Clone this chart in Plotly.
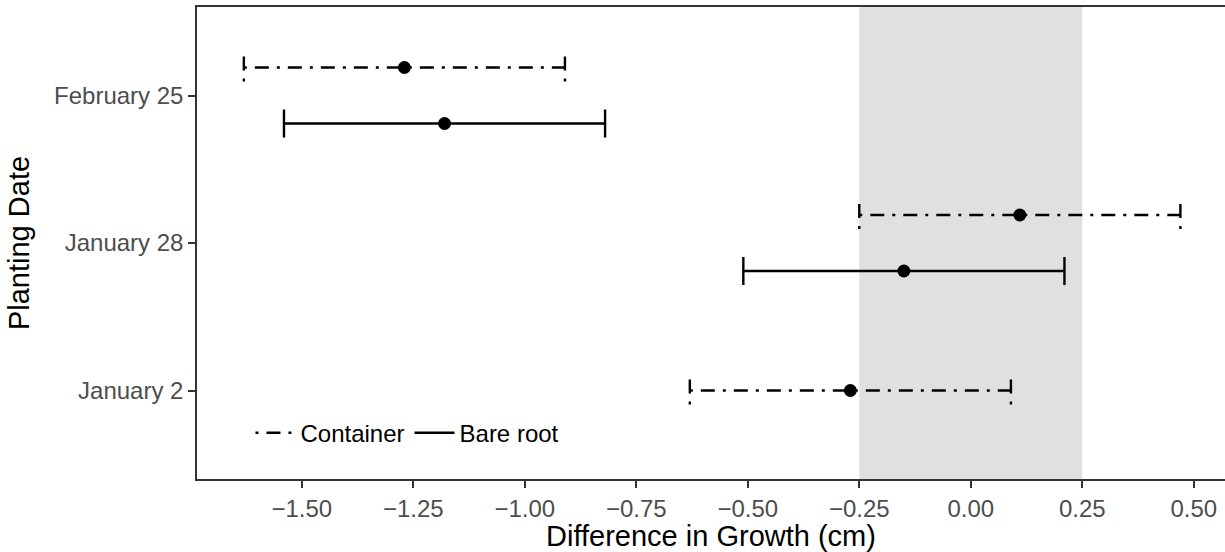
import plotly.graph_objects as go

# ---- data ----
dates = ["January 2", "January 28", "February 25"]
container_est = [-0.27, 0.11, -1.27]
container_lo = [-0.63, -0.25, -1.63]
container_hi = [0.09, 0.47, -0.91]
bare_dates = ["January 28", "February 25"]
bare_est = [-0.15, -1.18]
bare_lo = [-0.51, -1.54]
bare_hi = [0.21, -0.82]
equiv_bounds = [-0.25, 0.25]
x_ticks = [-1.5, -1.25, -1.0, -0.75, -0.5, -0.25, 0.0, 0.25, 0.5]

# ---- style ----
DODGE = 0.19
CAP = 0.095
LW = 2.4
FONT = "Liberation Sans, Arial, sans-serif"

pos = {d: i + 1 for i, d in enumerate(dates)}
bare_set = set(bare_dates)


def ypos(d, group):
    if d in bare_set:
        return pos[d] + DODGE if group == "container" else pos[d] - DODGE
    return pos[d]


def bar_path(ds, lo, hi, group):
    xs, ys = [], []
    for d, l, h in zip(ds, lo, hi):
        y = ypos(d, group)
        xs += [l, h, None, l, l, None, h, h, None]
        ys += [y, y, None, y - CAP, y + CAP, None, y - CAP, y + CAP, None]
    return xs, ys


fig = go.Figure()

cx, cy = bar_path(dates, container_lo, container_hi, "container")
fig.add_trace(go.Scatter(x=cx, y=cy, mode="lines", name="Container",
                         line=dict(color="black", width=LW, dash="3px,8px,14px,8px")))
bx, by = bar_path(bare_dates, bare_lo, bare_hi, "bare")
fig.add_trace(go.Scatter(x=bx, y=by, mode="lines", name="Bare root",
                         line=dict(color="black", width=LW, dash="solid")))
fig.add_trace(go.Scatter(x=container_est, y=[ypos(d, "container") for d in dates],
                         mode="markers", showlegend=False,
                         marker=dict(color="black", size=13)))
fig.add_trace(go.Scatter(x=bare_est, y=[ypos(d, "bare") for d in bare_dates],
                         mode="markers", showlegend=False,
                         marker=dict(color="black", size=13)))

fig.add_shape(type="rect", xref="x", yref="paper", x0=equiv_bounds[0], x1=equiv_bounds[1],
              y0=0, y1=1, fillcolor="#E0E0E0", line=dict(width=0), layer="below")

fig.update_layout(
    width=1225, height=552,
    margin=dict(l=197, r=0, t=7, b=73, autoexpand=False),
    paper_bgcolor="white", plot_bgcolor="white",
    font=dict(family=FONT, color="black"),
    showlegend=True,
    legend=dict(orientation="h", x=0.052, y=0.097, xanchor="left", yanchor="middle",
                bgcolor="rgba(0,0,0,0)", font=dict(size=24, color="black"),
                itemwidth=40, tracegroupgap=0),
    xaxis=dict(range=[-1.735, 0.57], tickvals=x_ticks, tickformat=".2f",
               showgrid=False, zeroline=False, showline=True, mirror=True,
               linecolor="#333333", linewidth=1.5,
               ticks="outside", ticklen=7, tickwidth=1.5, tickcolor="#333333",
               tickfont=dict(size=24, color="#4D4D4D"),
               title=dict(text="Difference in Growth (cm)", font=dict(size=29, color="black"),
                          standoff=4)),
    yaxis=dict(range=[0.4, 3.6], tickvals=[1, 2, 3], ticktext=dates,
               showgrid=False, zeroline=False, showline=True, mirror=True,
               linecolor="#333333", linewidth=1.5,
               ticks="outside", ticklen=7, tickwidth=1.5, tickcolor="#333333",
               tickfont=dict(size=24, color="#4D4D4D"),
               title=dict(text="Planting Date", font=dict(size=29, color="black"),
                          standoff=16)),
)

fig.write_html("out.html", config={"displayModeBar": False},
               post_script="document.body.style.margin='0';")
